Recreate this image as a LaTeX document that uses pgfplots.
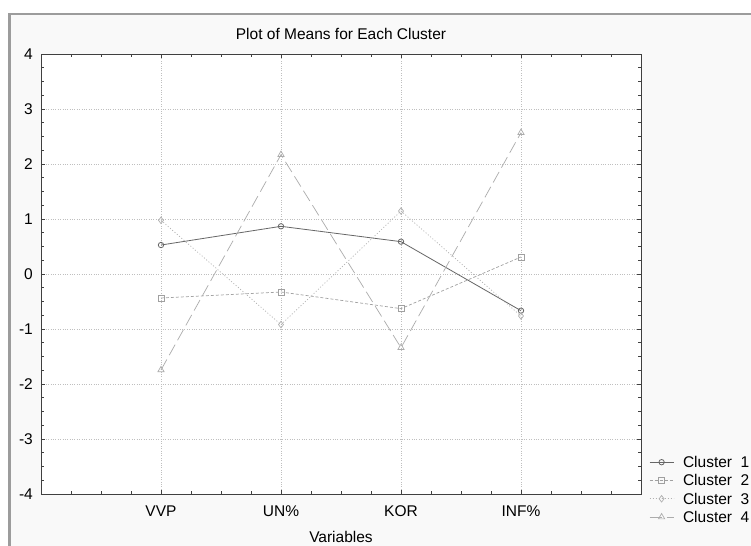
\documentclass[border=0pt]{standalone}
\usepackage{fontspec}
\setmainfont{Liberation Sans}
\usepackage{pgfplots}
\pgfplotsset{compat=1.18}
\definecolor{framec}{HTML}{9C9C9C}
\definecolor{bgc}{HTML}{F9F9F9}
\definecolor{cA}{HTML}{666666}
\definecolor{cB}{HTML}{A0A0A0}
\definecolor{cC}{HTML}{B0B0B0}
\definecolor{cD}{HTML}{ACACAC}
\begin{document}
\begin{tikzpicture}[font=\fontsize{15.5bp}{18bp}\selectfont]
\useasboundingbox (0,0) rectangle (751bp,546bp);
\fill[white] (0,0) rectangle (751bp,546bp);
\fill[bgc] (9.5bp,0) rectangle (751bp,532bp);
\draw[framec, line width=2.6bp] (9.5bp,0) -- (9.5bp,532bp) -- (751bp,532bp);
\begin{axis}[
  at={(41bp,52bp)}, anchor=south west,
  scale only axis, width=600bp, height=440bp,
  xmin=0, xmax=5, ymin=-4, ymax=4,
  xtick={0,...,5}, xticklabels={,VVP,UN\%,KOR,INF\%,},
  ytick={-4,...,4}, yticklabels={-4,-3,-2,-1,0,1,2,3,4},
  minor x tick num=3, minor y tick num=3,
  tick align=inside, major tick length=4bp, minor tick length=3bp,
  tick style={color=black!75, line width=0.6bp},
  axis line style={black!75, line width=0.8bp},
  grid=major, major grid style={dotted, color=black!25, line width=0.6bp},
  axis background/.style={fill=white},
  title={Plot of Means for Each Cluster},
  title style={at={(0.5,1)}, anchor=base, yshift=8.5bp},
  xlabel={Variables},
  xlabel style={at={(axis description cs:0.5,0)}, anchor=base, yshift=-48.5bp},
  xticklabel style={anchor=base, yshift=-22.5bp},
  yticklabel style={anchor=east, inner sep=0pt, xshift=-8bp},
  legend style={at={(axis description cs:1,0)}, anchor=north west,
    xshift=8bp, yshift=37.5bp, draw=none, fill=none, inner sep=0pt,
    row sep=7.3bp, nodes={inner sep=0pt, text height=11bp, text depth=0bp}},
  legend cell align=left,
  legend image code/.code={\draw[mark repeat=2,mark phase=2,#1] plot coordinates {(0bp,0bp) (12bp,0bp) (24bp,0bp)};},
  /tikz/every odd column/.append style={column sep=9bp},
]
\addplot[cA, line width=0.8bp, mark=o, mark size=2.7bp, mark options={solid, fill=white}]
  coordinates {(1,0.527) (2,0.867) (3,0.588) (4,-0.667)};
\addlegendentry{Cluster\ \ 1}
\addplot[cB, line width=0.7bp, dash pattern=on 3bp off 2bp, mark=square, mark size=3bp, mark options={solid, fill=white}]
  coordinates {(1,-0.436) (2,-0.327) (3,-0.630) (4,0.309)};
\addlegendentry{Cluster\ \ 2}
\addplot[cC, line width=0.7bp, dash pattern=on 1bp off 2bp, mark=diamond, mark size=3.3bp, mark options={solid, fill=white}]
  coordinates {(1,0.976) (2,-0.920) (3,1.145) (4,-0.764)};
\addlegendentry{Cluster\ \ 3}
\addplot[cD, line width=0.7bp, dash pattern=on 12bp off 5bp, mark=triangle, mark size=3.6bp, mark options={solid, fill=white}]
  coordinates {(1,-1.745) (2,2.170) (3,-1.340) (4,2.570)};
\addlegendentry{Cluster\ \ 4}
\end{axis}
\end{tikzpicture}
\end{document}
